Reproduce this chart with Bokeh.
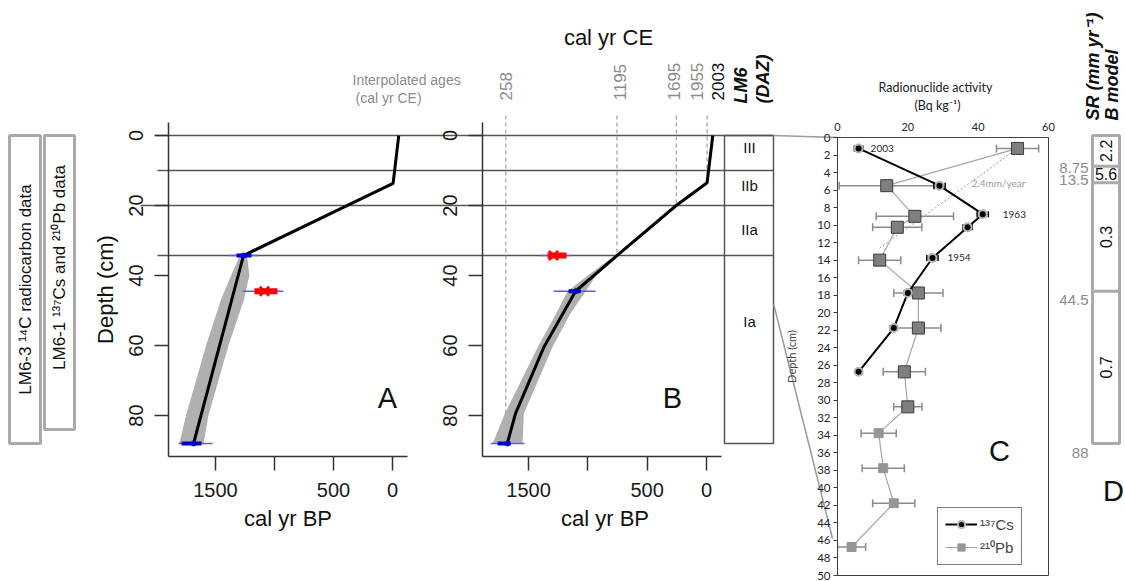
import math
from bokeh.plotting import figure
from bokeh.models import (Range1d, FixedTicker, Whisker, TeeHead, ColumnDataSource,
                          Legend, LegendItem, GridBox)
from bokeh.core.properties import value
from bokeh.embed import file_html
from bokeh.resources import INLINE

# ======================= DATA =======================
depth_ticks = [0, 20, 40, 60, 80]
bp_ticks = [0, 500, 1000, 1500]

# Panel A : LM6-3 age-depth model (cal yr BP)
a_model_depth = [0, 13.7, 34.3, 88]
a_model_bp = [-53, -5, 1263, 1686]
a_band_depth = [0, 13.7, 20, 30, 34.3, 40, 47, 60, 80, 88]
a_band_old = [-48, 0, 398, 1025, 1293, 1368, 1455, 1580, 1750, 1806]
a_band_young = [-58, -10, 373, 980, 1233, 1213, 1260, 1390, 1560, 1601]
a_date_depth = [34.3, 88]
a_date_bp = [1263, 1686]
a_date_lo = [1136, 1525]
a_date_hi = [1390, 1813]
a_date_core_lo = [1195, 1619]
a_date_core_hi = [1322, 1788]
a_rej_depth = [44.5]
a_rej_bp = [1085]
a_rej_lo = [924]
a_rej_hi = [1271]
a_rej_core_lo = [975]
a_rej_core_hi = [1170]

# Panel B
b_model_depth = [0, 13.5, 20, 34.3, 44.5, 51, 60.6, 79.4, 88]
b_model_bp = [-53, -5, 255, 755, 1104, 1213, 1373, 1610, 1680]
b_band_depth = [0, 13.5, 20, 34.3, 40, 44.5, 51, 60.6, 79.4, 88]
b_band_old = [-48, 0, 270, 775, 1000, 1171, 1270, 1424, 1700, 1803]
b_band_young = [-58, -10, 240, 735, 930, 1019, 1150, 1300, 1540, 1551]
b_date_depth = [44.5, 88]
b_date_bp = [1104, 1677]
b_date_lo = [935, 1534]
b_date_hi = [1289, 1820]
b_date_core_lo = [1061, 1652]
b_date_core_hi = [1163, 1761]
b_rej_depth = [34.3]
b_rej_bp = [1290]
b_rej_lo = [1146]
b_rej_hi = [1399]
b_rej_core_lo = [1180]
b_rej_core_hi = [1340]
interp_ce = [258, 1195, 1695, 1955]
interp_depth = [88, 34.3, 20, 13.5]
ce_labels = ["258", "1195", "1695", "1955", "2003"]
ce_values = [258, 1195, 1695, 1955, 2003]

# DAZ zones
daz_bounds = [0, 10, 20, 34.3, 88]
daz_names = ["III", "IIb", "IIa", "Ia"]

# Panel C : radionuclide activity (Bq/kg) vs depth (cm)
c_depth_ticks = list(range(0, 51, 2))
c_activity_ticks = [0, 20, 40, 60]
cs_depth = [1.25, 5.5, 8.75, 10.25, 13.75, 17.75, 21.75, 26.75]
cs_act = [6.0, 29.0, 41.3, 37.0, 27.0, 20.0, 16.0, 6.0]
cs_err = [1.2, 1.6, 1.6, 1.3, 1.6, 1.0, 1.0, 0.8]
cs_date_depth = [1.25, 8.75, 13.75]
cs_date_act = [6.0, 41.3, 27.0]
cs_date_text = ["2003", "1963", "1954"]
pb_depth = [1.25, 5.5, 9.0, 10.25, 14.0, 17.75, 21.75, 26.75, 30.75, 33.75, 37.75, 41.75, 46.75]
pb_act = [51.2, 14.0, 22.0, 17.0, 12.0, 23.0, 23.0, 19.0, 20.0, 11.7, 13.0, 16.0, 4.0]
pb_err = [6.0, 13.5, 11.0, 7.0, 6.0, 7.0, 6.4, 6.0, 4.0, 5.0, 6.0, 6.0, 4.0]
pb_n_main = 9
rate_depth = [1.25, 12.7]
rate_act = [51.2, 11.7]
rate_text = "2.4mm/year"

# Panel D : sedimentation rate (mm/yr), Bacon model
sr_bounds = [0, 8.75, 13.5, 44.5, 88]
sr_values = ["2.2", "5.6", "0.3", "0.7"]
sr_bound_labels = ["8.75", "13.5", "44.5", "88"]

# ======================= LAYOUT =======================
W, H = 1125, 581
Y0, PXCM = 135, 3.5          # depth 0 position and px per cm (panels A, B, DAZ, D)
FONT = "Liberation Sans"
CFONT = "Lato"
PI2 = math.pi / 2


def depth_range(top_px, bottom_px):
    return Range1d(start=(bottom_px - Y0) / PXCM, end=(top_px - Y0) / PXCM)


def bp_range(left_px, right_px, zero_px, px500):
    return Range1d(start=(zero_px - left_px) * 500 / px500,
                   end=(zero_px - right_px) * 500 / px500)


def new_fig(xr, yr, left, right, top, bottom, transparent=True, **kw):
    p = figure(width=W, height=H, x_range=xr, y_range=yr,
               output_backend="svg", toolbar_location=None,
               min_border_left=left, min_border_right=W - right,
               min_border_top=top, min_border_bottom=H - bottom,
               outline_line_color=None, frame_align=False, **kw)
    if transparent:
        p.background_fill_alpha = 0
        p.border_fill_alpha = 0
    p.xgrid.visible = False
    p.ygrid.visible = False
    return p


def style_axes(p):
    for ax in (p.xaxis[0], p.yaxis[0]):
        ax.axis_line_color = "#333333"
        ax.axis_line_width = 1.5
        ax.major_tick_line_color = "#333333"
        ax.major_tick_line_width = 1.5
        ax.major_tick_in = 0
        ax.major_tick_out = 14
        ax.minor_tick_in = 0
        ax.minor_tick_out = 0
        ax.major_label_text_font = FONT
        ax.major_label_text_font_size = "20px"
        ax.major_label_text_color = "#1a1a1a"
        ax.axis_label_text_font = FONT
        ax.axis_label_text_font_style = "normal"
        ax.axis_label_text_font_size = "22px"
        ax.axis_label_text_color = "#111111"
    xa, ya = p.xaxis[0], p.yaxis[0]
    xa.ticker = FixedTicker(ticks=bp_ticks)
    xa.major_label_overrides = {1000: ""}
    xa.major_label_standoff = 12
    xa.axis_label = "cal yr BP"
    xa.axis_label_standoff = 6
    ya.ticker = FixedTicker(ticks=depth_ticks)
    ya.major_label_orientation = "vertical"
    ya.major_label_standoff = 12


def draw_model(p, band_d, band_old, band_young, md, mbp,
               dd, dlo, dhi, dclo, dchi, dbp,
               rd, rbp, rlo, rhi, rclo, rchi):
    p.harea(y=band_d, x1=band_old, x2=band_young, fill_color="#b0b0b0")
    p.line(x=mbp, y=md, line_color="black", line_width=3)
    p.segment(x0=dlo, y0=dd, x1=dhi, y1=dd, line_color="#5a5aff", line_width=1.5)
    p.segment(x0=dclo, y0=dd, x1=dchi, y1=dd, line_color="#0000d0", line_width=4)
    p.scatter(x=dbp, y=dd, size=5, marker="circle", fill_color="#0000d0", line_color="#0000d0")
    p.segment(x0=rlo, y0=rd, x1=rhi, y1=rd, line_color="#5a5aff", line_width=1.5)
    p.segment(x0=rclo, y0=rd, x1=rchi, y1=rd, line_color="#ff0000", line_width=6)
    p.scatter(x=rbp, y=rd, size=13, marker="x", line_color="#ff0000", line_width=2.5)


# ---------------- background figure (frame = whole window) ----------------
bg = figure(width=W, height=H, x_range=Range1d(0, W), y_range=depth_range(0, H),
            output_backend="svg", toolbar_location=None,
            x_axis_location=None, y_axis_location=None,
            min_border=0, min_border_left=0, min_border_right=0,
            min_border_top=0, min_border_bottom=0, frame_align=False,
            outline_line_color=None, background_fill_color="white",
            border_fill_color="white")
bg.xgrid.visible = False
bg.ygrid.visible = False
bg.extra_y_ranges = {"px": Range1d(H, 0)}

# zone boundary lines through A, B and the DAZ column
bg.segment(x0=[155, 157, 140, 157], y0=daz_bounds[:4], x1=[773] * 4, y1=daz_bounds[:4],
           line_color="#555555", line_width=1.5)
bg.quad(left=[724], right=[773], top=[daz_bounds[0]], bottom=[daz_bounds[-1]],
        fill_color=None, line_color="#555555", line_width=1.5)
bg.text(x=[749] * 4, y=[3.5, 14.3, 26.9, 53.0], text=daz_names,
        text_font=value(FONT), text_font_size="15px", text_align="center",
        text_baseline="middle", text_color="#111111")

# connectors to panel C
bg.segment(x0=[773, 773], y0=[135, 303], x1=[837, 832], y1=[137, 538],
           y_range_name="px", line_color="#9a9a9a", line_width=1.5)

# left data boxes
bg.quad(left=[9, 44], right=[40, 74], top=[0, 0], bottom=[88, 84],
        fill_color=None, line_color="#aaaaaa", line_width=3)
bg.text(x=[25, 59], y=[289, 267], y_range_name="px",
        text=["LM6-3 \u00b9\u2074C radiocarbon data", "LM6-1 \u00b9\u00b3\u2077Cs and \u00b2\u00b9\u2070Pb data"],
        angle=PI2, text_font=value(FONT), text_font_size="17px",
        text_align="center", text_baseline="middle", text_color="#111111")

# panel D column
bg.quad(left=[1092], right=[1119], top=[sr_bounds[0]], bottom=[sr_bounds[-1]],
        fill_color=None, line_color="#aaaaaa", line_width=3)
bg.segment(x0=[1092] * 3, y0=sr_bounds[1:4], x1=[1119] * 3, y1=sr_bounds[1:4],
           line_color="#aaaaaa", line_width=3)
sr_mid = [(sr_bounds[i] + sr_bounds[i + 1]) / 2 for i in range(4)]
bg.text(x=[1105.5] * 4, y=sr_mid, text=sr_values, angle=[PI2, 0, PI2, PI2],
        text_font=value(FONT), text_font_size="16px", text_align="center",
        text_baseline="middle", text_color="#111111")
bg.text(x=[1088] * 4, y=sr_bounds[1:], text=sr_bound_labels, y_offset=[1.5, -2.5, 9, 9],
        text_font=value(FONT), text_font_size="15px", text_align="right",
        text_baseline="middle", text_color="#8c8c8c")
bg.text(x=[1092, 1111], y=[120, 120], y_range_name="px",
        text=["SR (mm yr\u207b\u00b9)", "B model"], angle=PI2,
        text_font=value(FONT), text_font_size="18px", text_font_style="bold italic",
        text_align="left", text_baseline="middle", text_color="#111111")

# headers
bg.text(x=[740, 762], y=[103, 103], y_range_name="px", text=["LM6", "(DAZ)"], angle=PI2,
        text_font=value(FONT), text_font_size="18px", text_font_style="bold italic",
        text_align="left", text_baseline="middle", text_color="#111111")
bg.text(x=[608], y=[37], y_range_name="px", text=["cal yr CE"],
        text_font=value(FONT), text_font_size="22px", text_align="center",
        text_baseline="middle", text_color="#111111")
bg.text(x=[352, 355], y=[79, 97], y_range_name="px",
        text=["Interpolated ages", "(cal yr CE)"],
        text_font=value(FONT), text_font_size="14px", text_align="left",
        text_baseline="middle", text_color="#8c8c8c")
bg.text(x=[935, 937], y=[87, 105], y_range_name="px",
        text=["Radionuclide activity", "(Bq kg\u207b\u00b9)"],
        text_font=value(CFONT), text_font_size="12.5px", text_align="center",
        text_baseline="middle", text_color="#222222")
bg.text(x=[387, 672, 999, 1113], y=[397, 397, 450, 490], y_range_name="px",
        text=["A", "B", "C", "D"],
        text_font=value(FONT), text_font_size="29px", text_align="center",
        text_baseline="middle", text_color="#111111")

# ---------------- panel A ----------------
pA = new_fig(bp_range(168, 407, 392, 59), depth_range(122, 456), 168, 407, 122, 456)
style_axes(pA)
pA.yaxis[0].axis_label = "Depth (cm)"
pA.yaxis[0].axis_label_standoff = 8
draw_model(pA, a_band_depth, a_band_old, a_band_young, a_model_depth, a_model_bp,
           a_date_depth, a_date_lo, a_date_hi, a_date_core_lo, a_date_core_hi, a_date_bp,
           a_rej_depth, a_rej_bp, a_rej_lo, a_rej_hi, a_rej_core_lo, a_rej_core_hi)

# ---------------- panel B ----------------
pB = new_fig(bp_range(482, 727, 706, 59.3), depth_range(0, 456), 482, 727, 0, 456)
style_axes(pB)
pB.yaxis[0].bounds = ((122 - Y0) / PXCM, (456 - Y0) / PXCM)
pB.xaxis[0].bounds = (-126, 1889)
dash_top = (115 - Y0) / PXCM
interp_bp = [1950 - v for v in interp_ce]
pB.segment(x0=interp_bp, y0=[dash_top] * 4, x1=interp_bp, y1=interp_depth,
           line_color="#8c8c8c", line_width=1, line_dash="4 3")
draw_model(pB, b_band_depth, b_band_old, b_band_young, b_model_depth, b_model_bp,
           b_date_depth, b_date_lo, b_date_hi, b_date_core_lo, b_date_core_hi, b_date_bp,
           b_rej_depth, b_rej_bp, b_rej_lo, b_rej_hi, b_rej_core_lo, b_rej_core_hi)
label_y = (100 - Y0) / PXCM
pB.text(x=[1950 - v for v in ce_values], y=[label_y] * 5, text=ce_labels,
        x_offset=[0, 3, -2, -10, 5], angle=PI2,
        text_color=["#8c8c8c"] * 4 + ["#111111"],
        text_font=value(FONT), text_font_size="17px", text_align="left",
        text_baseline="middle")

# ---------------- panel C ----------------
pC = new_fig(Range1d(0, 60), Range1d(50, 0), 837, 1048, 137, 575, x_axis_location="above")
pC.outline_line_color = "#404040"
pC.outline_line_width = 1
for ax in (pC.xaxis[0], pC.yaxis[0]):
    ax.axis_line_color = "#404040"
    ax.major_tick_line_color = "#404040"
    ax.major_tick_in = 0
    ax.minor_tick_in = 0
    ax.minor_tick_out = 0
    ax.major_label_text_font = CFONT
    ax.major_label_text_color = "#262626"
    ax.axis_label_text_font = CFONT
    ax.axis_label_text_font_style = "normal"
pC.xaxis[0].ticker = FixedTicker(ticks=c_activity_ticks)
pC.xaxis[0].major_tick_out = 0
pC.xaxis[0].major_label_standoff = 7
pC.xaxis[0].major_label_text_font_size = "11px"
pC.yaxis[0].ticker = FixedTicker(ticks=c_depth_ticks)
pC.yaxis[0].major_tick_out = 4
pC.yaxis[0].major_label_standoff = 3
pC.yaxis[0].major_label_text_font_size = "11.5px"
pC.yaxis[0].axis_label = "Depth (cm)"
pC.yaxis[0].axis_label_text_font_size = "11px"
pC.yaxis[0].axis_label_standoff = 16

pb_src = ColumnDataSource(dict(depth=pb_depth, act=pb_act,
                               lo=[a - e for a, e in zip(pb_act, pb_err)],
                               hi=[a + e for a, e in zip(pb_act, pb_err)]))
cs_src = ColumnDataSource(dict(depth=cs_depth, act=cs_act,
                               lo=[a - e for a, e in zip(cs_act, cs_err)],
                               hi=[a + e for a, e in zip(cs_act, cs_err)]))

pC.line(x=rate_act, y=rate_depth, line_color="#9a9a9a", line_width=1, line_dash="2 2")
pb_line = pC.line(x="act", y="depth", source=pb_src, line_color="#a6a6a6", line_width=1.2)
pC.add_layout(Whisker(source=pb_src, base="depth", lower="lo", upper="hi", dimension="width",
                      line_color="#8c8c8c", line_width=1.5, level="underlay",
                      lower_head=TeeHead(size=8, line_color="#8c8c8c", line_width=1.5),
                      upper_head=TeeHead(size=8, line_color="#8c8c8c", line_width=1.5)))
pC.scatter(x=pb_act[:pb_n_main], y=pb_depth[:pb_n_main], marker="square", size=12,
           fill_color="#7f7f7f", line_color="#3a3a3a", line_width=1)
pb_pts = pC.scatter(x=pb_act[pb_n_main:], y=pb_depth[pb_n_main:], marker="square", size=9,
                    fill_color="#969696", line_color="#969696")
cs_line = pC.line(x="act", y="depth", source=cs_src, line_color="black", line_width=2)
pC.add_layout(Whisker(source=cs_src, base="depth", lower="lo", upper="hi", dimension="width",
                      line_color="black", line_width=1.5, level="underlay",
                      lower_head=TeeHead(size=6, line_color="black", line_width=1.5),
                      upper_head=TeeHead(size=6, line_color="black", line_width=1.5)))
cs_pts = pC.scatter(x="act", y="depth", source=cs_src, marker="circle", size=8,
                    fill_color="black", line_color="#b5b5b5", line_width=2)
pC.text(x=cs_date_act, y=cs_date_depth, text=cs_date_text, x_offset=[12, 20, 15],
        text_font=value(CFONT), text_font_size="10px", text_align="left",
        text_baseline="middle", text_color="#262626")
pC.text(x=[45.8], y=[5.25], text=[rate_text], text_font=value(CFONT),
        text_font_size="10px", text_align="center", text_baseline="middle",
        text_color="#9a9a9a")
legend = Legend(items=[LegendItem(label="\u00b9\u00b3\u2077Cs", renderers=[cs_line, cs_pts]),
                       LegendItem(label="\u00b2\u00b9\u2070Pb", renderers=[pb_line, pb_pts])],
                location=(100, 10), label_text_font=FONT, label_text_font_size="15px",
                glyph_width=32, glyph_height=18, spacing=4, padding=7, margin=0,
                label_standoff=3, border_line_color="black", border_line_width=1,
                background_fill_color="white", background_fill_alpha=1)
pC.add_layout(legend)

# ---------------- stack all panels in the same grid cell ----------------
layout = GridBox(children=[(bg, 0, 0), (pA, 0, 0), (pB, 0, 0), (pC, 0, 0)])

open("out.html", "w").write(file_html(layout, INLINE))
